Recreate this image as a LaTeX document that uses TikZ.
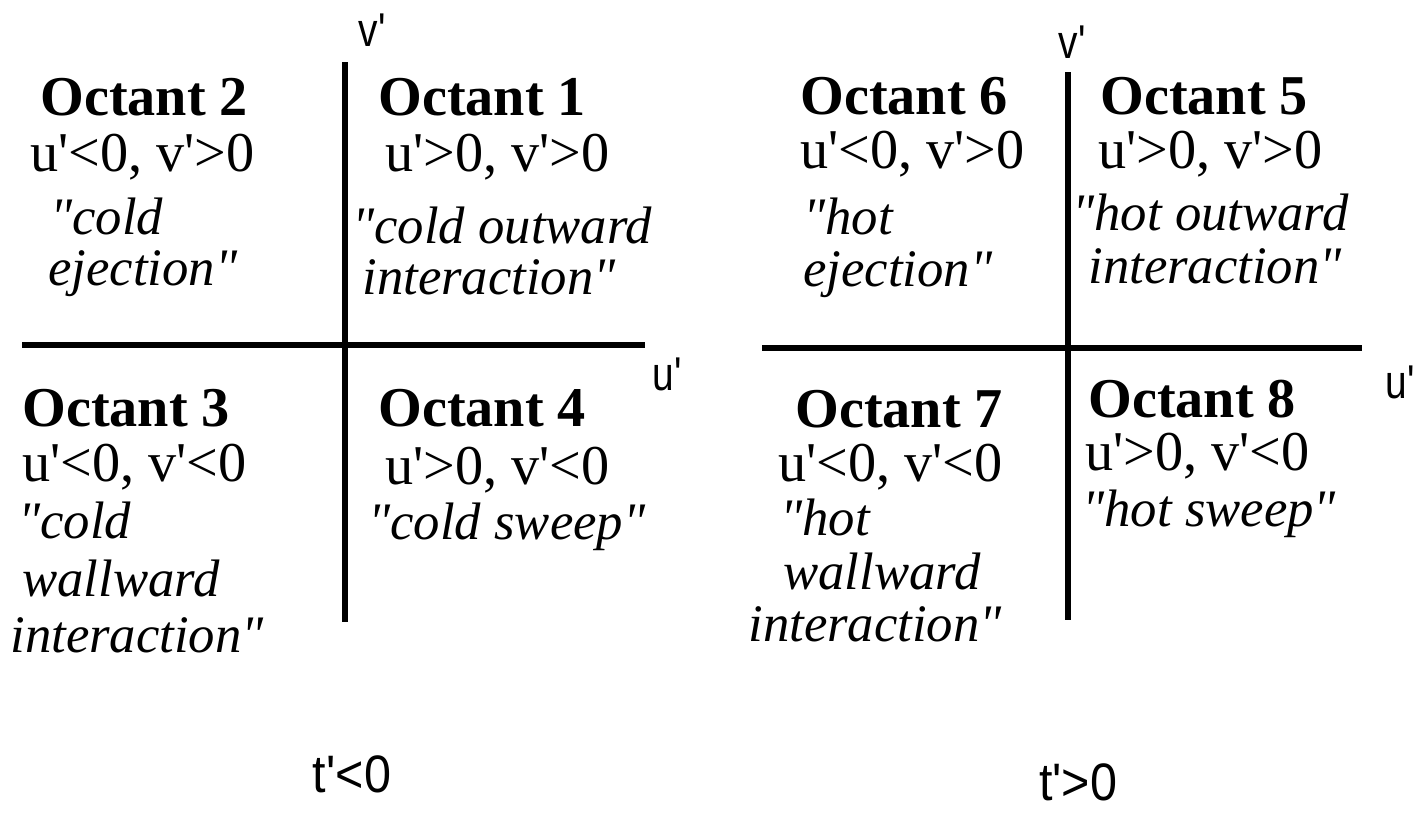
\documentclass[tikz,border=0pt]{standalone}
\usepackage{fontspec}
\newfontfamily\octfont{Liberation Serif}
\newfontfamily\axfont{Liberation Sans}[FakeStretch=0.82]
\newfontfamily\timefont{Liberation Sans}[FakeStretch=0.92]
\tikzset{
  axisline/.style={line width=3.8pt},
  octhead/.style={font=\octfont\bfseries\fontsize{32}{38}\selectfont, anchor=base west, inner sep=0pt},
  octsign/.style={font=\octfont\fontsize{32}{38}\selectfont, anchor=base west, inner sep=0pt},
  octname/.style={font=\octfont\itshape\fontsize{30}{36}\selectfont, anchor=base west, inner sep=0pt},
  axlabel/.style={font=\axfont\fontsize{27}{30}\selectfont, inner sep=0pt},
  timelabel/.style={font=\timefont\fontsize{30}{34}\selectfont, anchor=base, inner sep=0pt}
}
\begin{document}
\begin{tikzpicture}[x=0.02cm, y=-0.02cm]
\useasboundingbox (0,0) rectangle (1419,812);
% t'<0 axes
\coordinate (Ltop) at (345,62);
\coordinate (Lbot) at (345,622);
\coordinate (Lleft) at (22,345);
\coordinate (Lright) at (645,345);
\draw[axisline] (Ltop) -- (Lbot);
\draw[axisline] (Lleft) -- (Lright);
\node[axlabel] (Lv) at (372,30) {v'};
\node[axlabel] (Lu) at (667,374) {u'};
\node[timelabel] (Lt) at (352,792) {t'<0};
% octant 2
\node[octhead] (o2h) at (40,115) {Octant 2};
\node[octsign] (o2s) at (30,171) {u'<0, v'>0};
\node[octname] (o2a) at (50,234) {"cold};
\node[octname] (o2b) at (48,285) {ejection"};
% octant 1
\node[octhead] (o1h) at (378,115) {Octant 1};
\node[octsign] (o1s) at (385,171) {u'>0, v'>0};
\node[octname] (o1a) at (352,243) {"cold outward};
\node[octname] (o1b) at (362,294) {interaction"};
% octant 3
\node[octhead] (o3h) at (22,426) {Octant 3};
\node[octsign] (o3s) at (22,481) {u'<0, v'<0};
\node[octname] (o3a) at (18,538) {"cold};
\node[octname] (o3b) at (22,596) {wallward};
\node[octname] (o3c) at (10,652) {interaction"};
% octant 4
\node[octhead] (o4h) at (378,426) {Octant 4};
\node[octsign] (o4s) at (385,484) {u'>0, v'<0};
\node[octname] (o4a) at (368,539) {"cold sweep"};
% t'>0 axes
\coordinate (Rtop) at (1068,72);
\coordinate (Rbot) at (1068,620);
\coordinate (Rleft) at (762,348);
\coordinate (Rright) at (1362,348);
\draw[axisline] (Rtop) -- (Rbot);
\draw[axisline] (Rleft) -- (Rright);
\node[axlabel] (Rv) at (1072,42) {v'};
\node[axlabel] (Ru) at (1400,382) {u'};
\node[timelabel] (Rt) at (1078,800) {t'>0};
% octant 6
\node[octhead] (o6h) at (800,114) {Octant 6};
\node[octsign] (o6s) at (800,168) {u'<0, v'>0};
\node[octname] (o6a) at (803,234) {"hot};
\node[octname] (o6b) at (803,286) {ejection"};
% octant 5
\node[octhead] (o5h) at (1100,114) {Octant 5};
\node[octsign] (o5s) at (1098,168) {u'>0, v'>0};
\node[octname] (o5a) at (1072,230) {"hot outward};
\node[octname] (o5b) at (1088,283) {interaction"};
% octant 7
\node[octhead] (o7h) at (795,427) {Octant 7};
\node[octsign] (o7s) at (778,481) {u'<0, v'<0};
\node[octname] (o7a) at (780,535) {"hot};
\node[octname] (o7b) at (783,589) {wallward};
\node[octname] (o7c) at (748,641) {interaction"};
% octant 8
\node[octhead] (o8h) at (1088,417) {Octant 8};
\node[octsign] (o8s) at (1085,470) {u'>0, v'<0};
\node[octname] (o8a) at (1082,526) {"hot sweep"};
\end{tikzpicture}
\end{document}
